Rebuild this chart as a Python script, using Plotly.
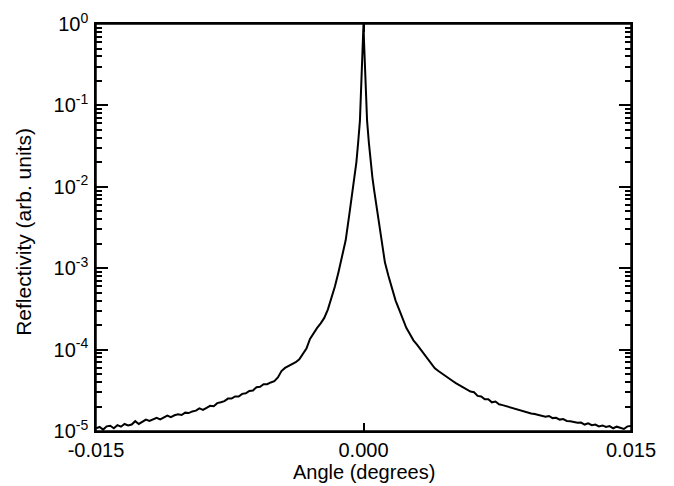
import plotly.graph_objects as go

# Angle in units of 1e-4 degrees
angle_e4 = [
    -150, -148, -146, -144, -142, -140, -138, -136, -134, -132,
    -130, -128, -126, -124, -122, -120, -118, -116, -114, -112,
    -110, -108, -106, -104, -102, -100, -98, -96, -94, -92,
    -90, -88, -86, -84, -82, -80, -78, -76, -74, -72,
    -70, -68, -66, -64, -62, -60, -58, -56, -54, -52,
    -50, -48, -46, -44, -42, -40, -38, -36, -34, -32,
    -30, -28, -26, -24, -22, -20, -18, -16, -14, -12,
    -10, -8, -6, -5, -4, -3, -2, -1.5, -1, -0.6, -0.3,
    0,
    0.3, 0.6, 1, 1.5, 2, 3, 4, 5, 6, 8,
    10, 12, 14, 16, 18, 20, 22, 24, 26, 28,
    30, 32, 34, 36, 38, 40, 42, 44, 46, 48,
    50, 52, 54, 56, 58, 60, 62, 64, 66, 68,
    70, 72, 74, 76, 78, 80, 82, 84, 86, 88,
    90, 92, 94, 96, 98, 100, 102, 104, 106, 108,
    110, 112, 114, 116, 118, 120, 122, 124, 126, 128,
    130, 132, 134, 136, 138, 140, 142, 144, 146, 148, 150,
]

# Reflectivity in units of 1e-5
refl_e5 = [
    1.08, 1.12, 1.04, 1.14, 1.16, 1.08, 1.18, 1.13, 1.22, 1.17,
    1.20, 1.32, 1.22, 1.30, 1.38, 1.33, 1.40, 1.45, 1.39, 1.47,
    1.55, 1.48, 1.56, 1.60, 1.57, 1.68, 1.66, 1.74, 1.78, 1.90,
    1.82, 1.93, 2.04, 2.02, 2.20, 2.26, 2.33, 2.50, 2.50, 2.66,
    2.65, 2.86, 2.90, 3.10, 3.15, 3.45, 3.50, 3.75, 3.76, 3.95,
    4.10, 4.55, 5.45, 5.95, 6.25, 6.7, 7.0, 7.6, 8.8, 10.3,
    13.5, 16.0, 18.5, 21.0, 24.5, 31.0, 43.0, 60.0, 90.0, 135.0,
    220.0, 450.0, 900.0, 1300.0, 2000.0, 3500.0, 6500.0, 13000.0, 27000.0, 38000.0, 60000.0,
    100000.0,
    60000.0, 38000.0, 27000.0, 13000.0, 6500.0, 3500.0, 2000.0, 1300.0, 900.0, 450.0,
    220.0, 118.0, 80.0, 55.0, 40.0, 31.0, 23.5, 18.5, 15.5, 13.0,
    11.5, 10.1, 9.0, 7.9, 6.8, 5.9, 5.45, 5.05, 4.75, 4.35,
    4.12, 3.85, 3.64, 3.40, 3.25, 3.05, 2.99, 2.70, 2.65, 2.45,
    2.46, 2.25, 2.30, 2.13, 2.08, 2.02, 1.95, 1.89, 1.83, 1.79,
    1.72, 1.70, 1.64, 1.62, 1.58, 1.55, 1.50, 1.53, 1.44, 1.45,
    1.38, 1.40, 1.33, 1.32, 1.30, 1.26, 1.27, 1.20, 1.24, 1.18,
    1.20, 1.14, 1.17, 1.12, 1.15, 1.08, 1.13, 1.09, 1.06, 1.14, 1.15,
]

angle = [a * 1e-4 for a in angle_e4]
refl = [r * 1e-5 for r in refl_e5]

x_tickvals = [-0.015, 0.0, 0.015]
x_ticktext = ["-0.015", "0.000", "0.015"]
y_tickvals = [1e0, 1e-1, 1e-2, 1e-3, 1e-4, 1e-5]
y_ticktext = ["10<sup>0</sup>", "10<sup>-1</sup>", "10<sup>-2</sup>",
              "10<sup>-3</sup>", "10<sup>-4</sup>", "10<sup>-5</sup>"]
x_title = "Angle (degrees)"
y_title = "Reflectivity (arb. units)"

fig = go.Figure()
fig.add_trace(go.Scatter(
    x=angle, y=refl, mode="lines",
    line=dict(color="black", width=2),
    showlegend=False,
))

font_family = "Liberation Sans, Arial, Helvetica, sans-serif"

# The page body adds an 8px offset, so the figure is sized to fit the window.
fig.update_layout(
    width=666, height=478,
    margin=dict(l=88, r=43, t=16, b=55),
    paper_bgcolor="white", plot_bgcolor="white",
    font=dict(family=font_family, size=20, color="black"),
    xaxis=dict(
        range=[-0.015, 0.015],
        tickvals=x_tickvals, ticktext=x_ticktext,
        ticks="inside", ticklen=8, tickwidth=1.5, tickcolor="black",
        showline=True, linecolor="black", linewidth=1.5, mirror="ticks",
        showgrid=False, zeroline=False, automargin=False,
        ticklabeloverflow="allow",
        tickfont=dict(size=20),
    ),
    yaxis=dict(
        type="log", range=[-5, 0],
        tickvals=y_tickvals, ticktext=y_ticktext,
        ticks="inside", ticklen=12, tickwidth=1.5, tickcolor="black",
        showline=True, linecolor="black", linewidth=1.5, mirror="ticks",
        showgrid=False, zeroline=False, automargin=False,
        ticklabelstandoff=2, ticklabeloverflow="allow",
        minor=dict(ticks="inside", ticklen=6, tickwidth=1.5, tickcolor="black",
                   dtick="D1", showgrid=False),
        tickfont=dict(size=20),
    ),
    shapes=[
        dict(type="rect", xref="paper", yref="paper", x0=0, x1=1, y0=0, y1=1,
             line=dict(color="black", width=1.5), fillcolor="rgba(0,0,0,0)",
             layer="above"),
    ],
    annotations=[
        dict(text=x_title, xref="paper", yref="paper", x=0.5, y=-0.1,
             xanchor="center", yanchor="middle", showarrow=False,
             font=dict(size=20)),
        dict(text=y_title, xref="paper", yref="paper", x=-0.136, y=0.49,
             xanchor="center", yanchor="middle", showarrow=False,
             textangle=-90, font=dict(size=21)),
    ],
)

fig.write_html("out.html")
